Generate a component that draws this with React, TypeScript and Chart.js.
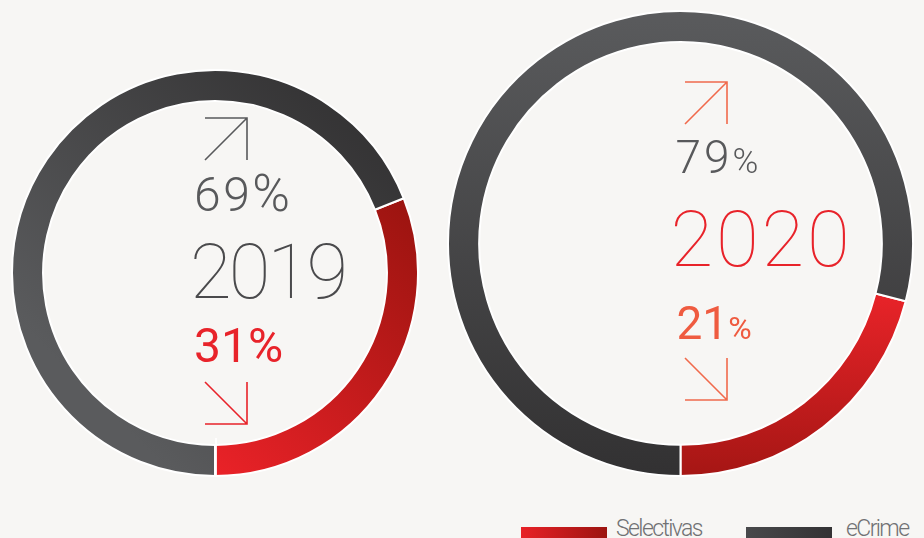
import React, { useEffect, useRef } from "react";
import { Chart, registerables } from "chart.js";

Chart.register(...registerables);

// ---------- data ----------
const seriesLabels = ["Selectivas", "eCrime"];
const yearLabels = ["2019", "2020"];
const selectivasShare = [31, 21];
const eCrimeShare = [69, 79];

// ---------- styles ----------
const BG = "#f7f6f4";
const GREY = "#58595b";
const RED = "#e8232a";
const ORANGE = "#ef5b40";
const ORANGE_ARROW = "#f06a4c";
const FONT = "Roboto, 'Liberation Sans', sans-serif";

type Stop = [number, string];
type TextPart = { text: string; size: number };
type TextSpec = { parts: TextPart[]; weight: number; color: string; dx: number; dy: number; spacing: number };
type ChartSpec = {
  index: number;
  left: number;
  top: number;
  size: number;
  cutout: string;
  gradient: "diag" | "vert";
  stops: Stop[][];
  texts: TextSpec[];
  arrowDx: number;
  upArrowDy: number;
  downArrowDy: number;
  upArrowColor: string;
  downArrowColor: string;
  extendTick: boolean;
};

const pct = (v: number, size: number, pSize: number): TextPart[] => [
  { text: String(v), size },
  { text: "%", size: pSize },
];

const specs: ChartSpec[] = [
  {
    index: 0,
    left: 11,
    top: 69,
    size: 408,
    cutout: "84.7%",
    gradient: "diag",
    stops: [
      [
        [0.25, "#ea2228"],
        [0.82, "#9c1410"],
      ],
      [
        [0.2, "#5a5b5d"],
        [0.9, "#323132"],
      ],
    ],
    texts: [
      { parts: pct(eCrimeShare[0], 48, 51), weight: 300, color: GREY, dx: -21, dy: -62, spacing: 2.5 },
      { parts: [{ text: yearLabels[0], size: 76 }], weight: 100, color: "#4a4a4c", dx: -25, dy: 25, spacing: -2.8 },
      { parts: pct(selectivasShare[0], 48, 48), weight: 400, color: RED, dx: -21, dy: 89, spacing: 0 },
    ],
    arrowDx: -10,
    upArrowDy: -155,
    downArrowDy: 109,
    upArrowColor: GREY,
    downArrowColor: RED,
    extendTick: true,
  },
  {
    index: 1,
    left: 447,
    top: 10,
    size: 467,
    cutout: "86.6%",
    gradient: "vert",
    stops: [
      [
        [0.62, "#e62328"],
        [1, "#a51614"],
      ],
      [
        [0, "#5a5b5d"],
        [1, "#323132"],
      ],
    ],
    texts: [
      { parts: pct(eCrimeShare[1], 46, 35), weight: 300, color: GREY, dx: -5, dy: -70.5, spacing: 3 },
      { parts: [{ text: yearLabels[1], size: 78 }], weight: 100, color: RED, dx: -10, dy: 22.5, spacing: 2.8 },
      { parts: pct(selectivasShare[1], 46, 32), weight: 400, color: ORANGE, dx: -4, dy: 95.5, spacing: 0 },
    ],
    arrowDx: 4.5,
    upArrowDy: -161.5,
    downArrowDy: 114.5,
    upArrowColor: ORANGE_ARROW,
    downArrowColor: ORANGE_ARROW,
    extendTick: false,
  },
];

function drawArrow(ctx: CanvasRenderingContext2D, x0: number, y0: number, s: number, dir: "up" | "down", color: string) {
  ctx.save();
  ctx.strokeStyle = color;
  ctx.lineWidth = 1.6;
  ctx.lineCap = "butt";
  ctx.beginPath();
  if (dir === "up") {
    ctx.moveTo(x0, y0);
    ctx.lineTo(x0 + s, y0);
    ctx.lineTo(x0 + s, y0 + s);
    ctx.moveTo(x0, y0 + s);
    ctx.lineTo(x0 + s, y0);
  } else {
    ctx.moveTo(x0, y0 + s);
    ctx.lineTo(x0 + s, y0 + s);
    ctx.lineTo(x0 + s, y0);
    ctx.moveTo(x0, y0);
    ctx.lineTo(x0 + s, y0 + s);
  }
  ctx.stroke();
  ctx.restore();
}

function makeNotesPlugin(spec: ChartSpec) {
  return {
    id: "centerNotes",
    afterDatasetsDraw(chart: any) {
      const arc = chart.getDatasetMeta(0).data[0];
      if (!arc) return;
      const cx = arc.x;
      const cy = arc.y;
      const ctx: any = chart.ctx;
      ctx.save();
      if (spec.extendTick) {
        ctx.strokeStyle = "#ffffff";
        ctx.lineWidth = 1.8;
        ctx.beginPath();
        ctx.moveTo(cx + 1, cy + arc.innerRadius - 7);
        ctx.lineTo(cx + 1, cy + arc.outerRadius + 20);
        ctx.stroke();
      }
      ctx.textBaseline = "alphabetic";
      ctx.textAlign = "left";
      for (const t of spec.texts) {
        let x = cx + t.dx;
        ctx.fillStyle = t.color;
        ctx.letterSpacing = `${t.spacing}px`;
        for (const p of t.parts) {
          ctx.font = `${t.weight} ${p.size}px ${FONT}`;
          ctx.fillText(p.text, x, cy + t.dy);
          x += ctx.measureText(p.text).width;
        }
      }
      ctx.letterSpacing = "0px";
      drawArrow(ctx, cx + spec.arrowDx, cy + spec.upArrowDy, 42, "up", spec.upArrowColor);
      drawArrow(ctx, cx + spec.arrowDx, cy + spec.downArrowDy, 42, "down", spec.downArrowColor);
      ctx.restore();
    },
  };
}

function Ring({ spec }: { spec: ChartSpec }) {
  const ref = useRef<HTMLCanvasElement | null>(null);
  useEffect(() => {
    if (!ref.current) return;
    const i = spec.index;
    const sel = selectivasShare[i];
    const ec = eCrimeShare[i];
    const rotation = 180 - (sel / (sel + ec)) * 360;
    const bg = (c: any) => {
      const chart = c.chart;
      const a = chart.chartArea;
      const stops = spec.stops[c.dataIndex];
      if (!a) return stops[0][1];
      const g =
        spec.gradient === "diag"
          ? chart.ctx.createLinearGradient(a.left, a.bottom, a.right, a.top)
          : chart.ctx.createLinearGradient(0, a.top, 0, a.bottom);
      for (const [o, col] of stops) g.addColorStop(o, col);
      return g;
    };
    const chart = new Chart(ref.current, {
      type: "doughnut",
      data: {
        labels: seriesLabels,
        datasets: [
          {
            data: [sel, ec],
            backgroundColor: bg as any,
            borderColor: "#ffffff",
            borderWidth: 2,
            hoverOffset: 0,
          },
        ],
      },
      options: {
        responsive: false,
        animation: false,
        rotation,
        cutout: spec.cutout,
        layout: { padding: 0 },
        plugins: {
          legend: { display: false },
          tooltip: { enabled: false },
        },
        events: [],
      },
      plugins: [makeNotesPlugin(spec)],
    });
    let alive = true;
    if ((document as any).fonts && (document as any).fonts.load) {
      Promise.all([
        (document as any).fonts.load(`100 76px Roboto`),
        (document as any).fonts.load(`300 48px Roboto`),
        (document as any).fonts.load(`400 48px Roboto`),
      ])
        .then(() => {
          if (alive) chart.update();
        })
        .catch(() => {});
    }
    return () => {
      alive = false;
      chart.destroy();
    };
  }, [spec]);
  return (
    <canvas
      ref={ref}
      width={spec.size}
      height={spec.size}
      style={{ position: "absolute", left: spec.left, top: spec.top, width: spec.size, height: spec.size }}
    />
  );
}

const legendSwatches = [
  "linear-gradient(to right, #e82127, #9c1410)",
  "linear-gradient(to right, #48494b, #333234)",
];
const legendLeft = [521, 746];
const legendTextGap = [9, 14];

export default function App() {
  return (
    <div
      style={{
        position: "fixed",
        left: 0,
        top: 0,
        width: 924,
        height: 538,
        background: BG,
        overflow: "hidden",
        fontFamily: FONT,
      }}
    >
      {specs.map((s) => (
        <Ring key={s.index} spec={s} />
      ))}
      {seriesLabels.map((lab, i) => (
        <div
          key={lab}
          style={{ position: "absolute", left: legendLeft[i], top: 515, display: "flex", alignItems: "flex-start", whiteSpace: "nowrap" }}
        >
          <div style={{ width: 86, height: 14, marginTop: 12, background: legendSwatches[i] }} />
          <span
            style={{
              marginLeft: legendTextGap[i],
              fontSize: 23,
              fontWeight: 300,
              color: "#707173",
              letterSpacing: -1.6,
              lineHeight: "28px",
            }}
          >
            {lab}
          </span>
        </div>
      ))}
    </div>
  );
}
